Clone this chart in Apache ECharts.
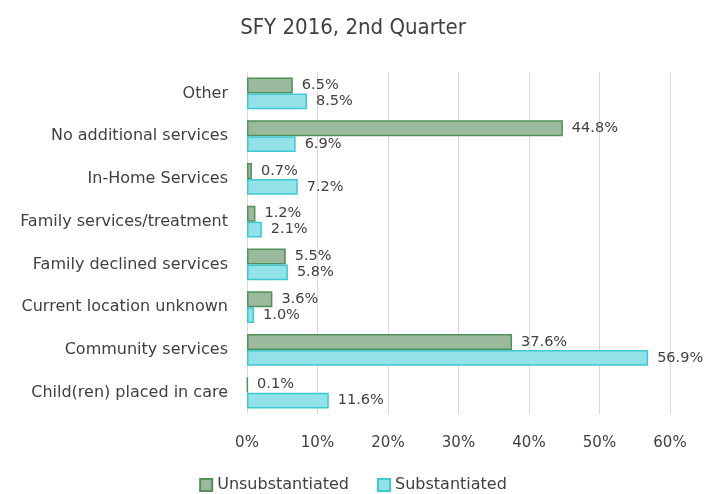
<!DOCTYPE html>
<html>
<head>
<meta charset="utf-8">
<script src="https://cdn.jsdelivr.net/npm/echarts@6/dist/echarts.min.js"></script>
<style>
html, body { margin: 0; padding: 0; background: #fff; }
#main { width: 706px; height: 494px; }
</style>
</head>
<body>
<div id="main"></div>
<script>
var myChart = echarts.init(document.getElementById('main'));

var categories = ['Child(ren) placed in care', 'Community services', 'Current location unknown',
    'Family declined services', 'Family services/treatment', 'In-Home Services',
    'No additional services', 'Other'];
var unsubstantiated = [0.1, 37.6, 3.6, 5.5, 1.2, 0.7, 44.8, 6.5];
var substantiated = [11.6, 56.9, 1.0, 5.8, 2.1, 7.2, 6.9, 8.5];
var xTicks = [0, 10, 20, 30, 40, 50, 60];

var textFont = 'DejaVu Sans';

var labelStyle = {
    show: true,
    position: 'right',
    distance: 9,
    color: '#404040',
    fontFamily: textFont,
    fontSize: 14.5,
    formatter: function (p) { return p.value.toFixed(1) + '%'; }
};

option = {
    backgroundColor: '#fff',
    title: {
        text: 'SFY 2016, 2nd Quarter',
        left: 'center',
        top: 12,
        textStyle: {
            fontFamily: 'DejaVu Sans Condensed',
            fontWeight: 'normal',
            fontSize: 22,
            color: '#404040'
        }
    },
    legend: {
        top: 472,
        left: 'center',
        icon: 'rect',
        itemWidth: 12,
        itemHeight: 12,
        itemGap: 28,
        textStyle: { fontFamily: textFont, fontSize: 16, color: '#404040' },
        data: ['Unsubstantiated', 'Substantiated']
    },
    grid: { left: 247, right: 36, top: 72, bottom: 80 },
    xAxis: {
        type: 'value',
        min: 0,
        max: 60,
        interval: 10,
        axisLine: { show: false },
        axisTick: { show: false },
        splitLine: { lineStyle: { color: '#d9d9d9' } },
        axisLabel: {
            margin: 22,
            fontFamily: textFont,
            fontSize: 15,
            color: '#404040',
            formatter: function (v) { return xTicks.indexOf(v) >= 0 ? v + '%' : ''; }
        }
    },
    yAxis: {
        type: 'category',
        data: categories,
        axisLine: { show: false },
        axisTick: { show: false },
        axisLabel: { margin: 19, fontFamily: textFont, fontSize: 16, color: '#404040' }
    },
    series: [
        {
            name: 'Unsubstantiated',
            type: 'bar',
            data: unsubstantiated,
            barGap: '0%',
            barCategoryGap: '26%',
            itemStyle: { color: '#9bba9d', borderColor: '#4f9159', borderWidth: 1.5 },
            label: Object.assign({}, labelStyle)
        },
        {
            name: 'Substantiated',
            type: 'bar',
            data: substantiated,
            barGap: '0%',
            barCategoryGap: '26%',
            itemStyle: { color: '#93e2e8', borderColor: '#3ec8d2', borderWidth: 1.5 },
            label: Object.assign({}, labelStyle)
        }
    ]
};

myChart.setOption(option);
</script>
</body>
</html>
